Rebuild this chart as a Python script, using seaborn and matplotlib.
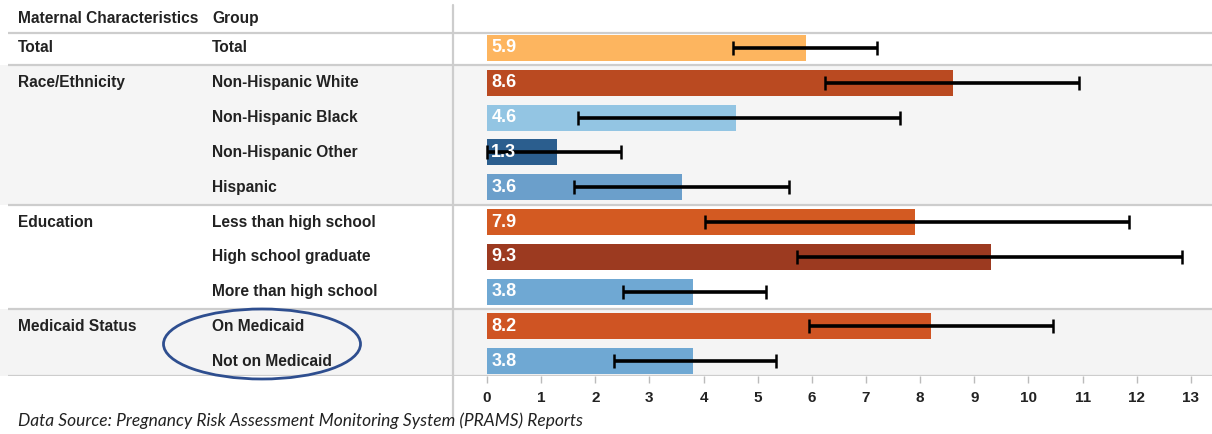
import numpy as np
import pandas as pd
import matplotlib.pyplot as plt
import seaborn as sns
from matplotlib.patches import Ellipse
from matplotlib.lines import Line2D

# ------------------------------------------------------------------
# Dados
# ------------------------------------------------------------------
characteristics = ["Total", "Race/Ethnicity", "", "", "", "Education", "", "",
                   "Medicaid Status", ""]
groups = ["Total", "Non-Hispanic White", "Non-Hispanic Black", "Non-Hispanic Other",
          "Hispanic", "Less than high school", "High school graduate",
          "More than high school", "On Medicaid", "Not on Medicaid"]
rates = [5.9, 8.6, 4.6, 1.3, 3.6, 7.9, 9.3, 3.8, 8.2, 3.8]
ci_low = [4.55, 6.25, 1.68, 0.0, 1.6, 4.03, 5.73, 2.52, 5.95, 2.35]
ci_high = [7.2, 10.93, 7.63, 2.48, 5.57, 11.85, 12.84, 5.16, 10.45, 5.34]
bar_colors = ["#FDB55F", "#BA4A21", "#93C5E3", "#2B5E8E", "#6B9FCB",
              "#D35A22", "#9C3A20", "#6FA8D3", "#CF5423", "#6FA8D3"]
x_ticks = list(range(0, 14))
source_text = "Data Source: Pregnancy Risk Assessment Monitoring System (PRAMS) Reports"

df = pd.DataFrame({"group": groups, "rate": rates})

sns.set_style("white")
plt.rcParams["font.family"] = ["Liberation Sans", "DejaVu Sans"]

W, H = 1212, 434
fig = plt.figure(figsize=(W / 100, H / 100), dpi=100)

# eixos: tabela à esquerda, barras à direita (mesma escala vertical)
bottom = (H - 376) / H
height = 376 / H
ax_tab = fig.add_axes([0, bottom, 453 / W, height])
ax = fig.add_axes([453 / W, bottom, 1 - 453 / W, height], sharey=ax_tab)

ylim = (9.425, -1.379)
line_col = "#CDCDCD"
txt_col = "#222222"
txt_kw = dict(fontsize=11.2, fontweight="bold", va="center", color=txt_col)

for a in (ax_tab, ax):
    a.axhspan(0.5, 4.5, color="#F5F5F5", zorder=0, lw=0)
    a.axhspan(7.5, ylim[0], color="#F4F4F4", zorder=0, lw=0)
    for s in a.spines.values():
        s.set_visible(False)
    a.set_facecolor("none")

# barras
sns.barplot(data=df, x="rate", y="group", hue="group", palette=bar_colors,
            legend=False, ax=ax, width=0.75, saturation=1, orient="h",
            edgecolor="none", zorder=2)
pos = np.arange(len(groups))
r = np.array(rates)
ax.errorbar(r, pos, xerr=[r - np.array(ci_low), np.array(ci_high) - r], fmt="none",
            ecolor="black", elinewidth=2.6, capsize=5, capthick=1.8, zorder=3)
for i, v in enumerate(rates):
    ax.text(0.08, i, f"{v:.1f}", color="white", fontsize=13, fontweight="bold",
            va="center", ha="left", zorder=4)

ax.set_xlim(-0.628, 13.39)
ax.set_ylim(*ylim)
ax.set_xticks(x_ticks)
ax.set_xticklabels([str(t) for t in x_ticks], fontsize=11, fontweight="bold",
                   color=txt_col)
ax.tick_params(axis="x", bottom=True, length=5, width=1, color="#BBBBBB", pad=6)
ax.set_yticks([])
ax.set_xlabel("")
ax.set_ylabel("")

# linhas separadoras
for y in (-0.43, 0.5, 4.5, 7.5, ylim[0]):
    ax.axhline(y, color=line_col, lw=1.6, zorder=1)
    ax_tab.hlines(y, 8, 453, color=line_col, lw=1.6, zorder=1)

# tabela
ax_tab.set_xlim(0, 453)
ax_tab.set_xticks([])
ax_tab.text(18, -0.86, "Maternal Characteristics", **txt_kw)
ax_tab.text(212, -0.86, "Group", **txt_kw)
for i, (c, g) in enumerate(zip(characteristics, groups)):
    if c:
        ax_tab.text(18, i, c, **txt_kw)
    ax_tab.text(212, i, g, **txt_kw)

# linha vertical entre tabela e gráfico
fig.add_artist(Line2D([453 / W, 453 / W], [1 - 5 / H, 1 - 418 / H],
                      transform=fig.transFigure, color=line_col, lw=1.6))

# elipse de destaque
fig.add_artist(Ellipse((262 / W, 1 - 344 / H), 197 / W, 70 / H,
                       transform=fig.transFigure, fill=False,
                       edgecolor="#2E4E8F", lw=2))

fig.text(18 / W, 1 - 421 / H, source_text, fontsize=12.5, fontstyle="italic",
         family=["Lato", "DejaVu Sans"], va="center", color="#222222")

plt.savefig("out.png", dpi=100)
